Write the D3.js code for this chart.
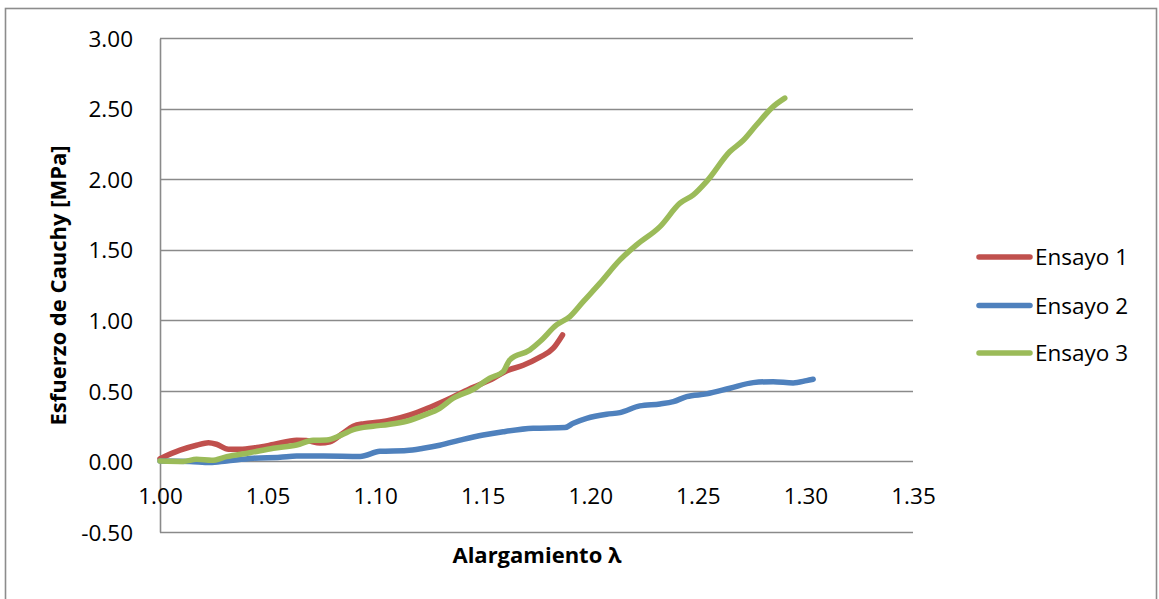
<!DOCTYPE html>
<html>
<head>
<meta charset="utf-8">
<script src="https://cdn.jsdelivr.net/npm/d3@7"></script>
<style>
  html, body { margin: 0; padding: 0; background: #fff; }
  svg { display: block; }
  text { font-family: "Open Sans", "Noto Sans", sans-serif; fill: #000; }
</style>
</head>
<body>
<svg id="chart" width="1159" height="599"></svg>
<script>
// Stretch ratio (λ) and Cauchy stress [MPa] for each test
const seriesNames = ["Ensayo 1", "Ensayo 2", "Ensayo 3"];
const seriesColors = ["#C0504D", "#4F81BD", "#9BBB59"];

const ensayo1Lambda = [1.000, 1.0093, 1.0170, 1.0225, 1.0263, 1.0318, 1.0372, 1.0450, 1.0527, 1.0635, 1.0680, 1.0744, 1.0790, 1.0850, 1.0898, 1.0950, 1.1022, 1.1084, 1.1162, 1.1240, 1.1332, 1.1456, 1.1550, 1.1610, 1.1688, 1.1766, 1.1828, 1.1871];
const ensayo1Stress = [0.020, 0.080, 0.115, 0.133, 0.122, 0.087, 0.087, 0.100, 0.120, 0.150, 0.148, 0.131, 0.140, 0.200, 0.250, 0.268, 0.280, 0.298, 0.330, 0.375, 0.436, 0.526, 0.590, 0.642, 0.682, 0.739, 0.803, 0.897];

const ensayo2Lambda = [1.000, 1.0139, 1.0232, 1.0310, 1.0434, 1.0558, 1.0635, 1.0759, 1.0930, 1.1022, 1.1146, 1.1224, 1.1300, 1.1409, 1.1502, 1.1595, 1.1735, 1.1882, 1.1921, 1.1983, 1.2076, 1.2138, 1.2230, 1.2324, 1.2386, 1.2448, 1.2540, 1.2649, 1.2757, 1.2850, 1.2943, 1.3005, 1.3036];
const ensayo2Stress = [0.003, 0.000, -0.008, 0.004, 0.023, 0.030, 0.039, 0.039, 0.036, 0.072, 0.078, 0.094, 0.115, 0.157, 0.188, 0.211, 0.235, 0.240, 0.271, 0.306, 0.335, 0.346, 0.394, 0.408, 0.424, 0.460, 0.479, 0.519, 0.559, 0.566, 0.557, 0.573, 0.583];

const ensayo3Lambda = [1.000, 1.0108, 1.0170, 1.0240, 1.0310, 1.0418, 1.0527, 1.0635, 1.0712, 1.0775, 1.0840, 1.0898, 1.0990, 1.1062, 1.1146, 1.1230, 1.1300, 1.1363, 1.1456, 1.1533, 1.1595, 1.1626, 1.1719, 1.1766, 1.1843, 1.1905, 1.1967, 1.2045, 1.2138, 1.2215, 1.2324, 1.2417, 1.2479, 1.2540, 1.2649, 1.2710, 1.2773, 1.2850, 1.2904];
const ensayo3Stress = [0.003, 0.000, 0.015, 0.008, 0.034, 0.062, 0.094, 0.117, 0.150, 0.152, 0.185, 0.225, 0.250, 0.262, 0.285, 0.330, 0.377, 0.448, 0.512, 0.590, 0.637, 0.720, 0.790, 0.850, 0.968, 1.027, 1.133, 1.264, 1.429, 1.535, 1.665, 1.831, 1.890, 1.984, 2.197, 2.275, 2.387, 2.516, 2.576];

const xTicks = [1.00, 1.05, 1.10, 1.15, 1.20, 1.25, 1.30, 1.35];
const yTicks = [-0.50, 0.00, 0.50, 1.00, 1.50, 2.00, 2.50, 3.00];

const series = [
  { name: seriesNames[0], color: seriesColors[0], pts: ensayo1Lambda.map((l, i) => [l, ensayo1Stress[i]]) },
  { name: seriesNames[1], color: seriesColors[1], pts: ensayo2Lambda.map((l, i) => [l, ensayo2Stress[i]]) },
  { name: seriesNames[2], color: seriesColors[2], pts: ensayo3Lambda.map((l, i) => [l, ensayo3Stress[i]]) }
];

const svg = d3.select("#chart");
const plot = { left: 160, right: 913, top: 38.3, bottom: 532 };

const x = d3.scaleLinear().domain([1.00, 1.35]).range([plot.left, plot.right]);
const y = d3.scaleLinear().domain([-0.50, 3.00]).range([plot.bottom, plot.top]);

// two decimals with a plain hyphen for negatives
const fmt = d => d.toFixed(2);

const grid = "#8a8a8a";

// chart frame
svg.append("rect")
  .attr("x", 5.5).attr("y", 8.5)
  .attr("width", 1151).attr("height", 600)
  .attr("fill", "none").attr("stroke", "#8c8c8c").attr("stroke-width", 1.6);

// horizontal gridlines (the 0.00 line doubles as the category axis)
svg.append("g")
  .selectAll("line").data(yTicks).join("line")
  .attr("x1", plot.left).attr("x2", plot.right)
  .attr("y1", d => Math.round(y(d)) + 0.5).attr("y2", d => Math.round(y(d)) + 0.5)
  .attr("stroke", grid).attr("stroke-width", 1.6);

// value axis
const yAxis = d3.axisLeft(y).tickValues(yTicks).tickFormat(fmt).tickSize(0).tickPadding(0);
const gy = svg.append("g").attr("transform", `translate(${plot.left},0)`).call(yAxis);
gy.select(".domain").attr("stroke", grid).attr("stroke-width", 1.6);
gy.selectAll("text")
  .attr("x", 133 - plot.left).attr("dy", "0.36em")
  .attr("font-size", 22.5).attr("font-family", "'Open Sans', sans-serif").attr("fill", "#000");

// category axis labels under the zero line
const xAxis = d3.axisBottom(x).tickValues(xTicks).tickFormat(fmt).tickSize(0).tickPadding(0);
const gx = svg.append("g").attr("transform", `translate(0,${y(0)})`).call(xAxis);
gx.select(".domain").remove();
gx.selectAll("text")
  .attr("y", 43).attr("dy", 0)
  .attr("font-size", 22.5).attr("font-family", "'Open Sans', sans-serif").attr("fill", "#000");

// axis titles
svg.append("text")
  .attr("x", 537).attr("y", 563)
  .attr("text-anchor", "middle")
  .attr("font-size", 22).attr("font-weight", "bold")
  .text("Alargamiento λ");

svg.append("text")
  .attr("transform", "translate(66,285.5) rotate(-90)")
  .attr("text-anchor", "middle")
  .attr("font-size", 22).attr("font-weight", "bold")
  .text("Esfuerzo de Cauchy [MPa]");

// data lines
const line = d3.line().x(d => x(d[0])).y(d => y(d[1])).curve(d3.curveMonotoneX);
svg.append("g")
  .selectAll("path").data(series).join("path")
  .attr("d", d => line(d.pts))
  .attr("fill", "none")
  .attr("stroke", d => d.color)
  .attr("stroke-width", 5.5)
  .attr("stroke-linecap", "round")
  .attr("stroke-linejoin", "round");

// legend
const legendY = [257, 305.5, 353];
const lg = svg.append("g").selectAll("g").data(series).join("g")
  .attr("transform", (d, i) => `translate(0,${legendY[i]})`);
lg.append("line")
  .attr("x1", 979).attr("x2", 1030).attr("y1", 0).attr("y2", 0)
  .attr("stroke", d => d.color).attr("stroke-width", 5.5).attr("stroke-linecap", "round");
lg.append("text")
  .attr("x", 1035).attr("dy", "0.36em")
  .attr("font-size", 22.5)
  .text(d => d.name);
</script>
</body>
</html>
